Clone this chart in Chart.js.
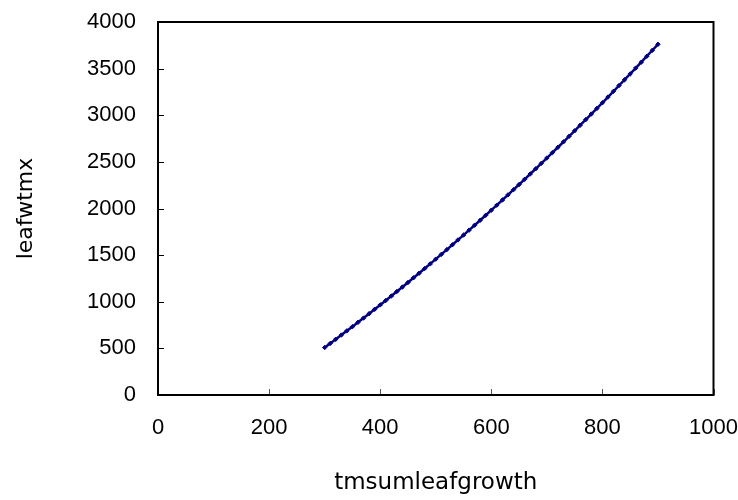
<!DOCTYPE html>
<html>
<head>
<meta charset="utf-8">
<script src="https://cdn.jsdelivr.net/npm/chart.js@4/dist/chart.umd.min.js"></script>
<style>
  html, body { margin: 0; padding: 0; background: #fff; }
  #wrap { width: 738px; height: 500px; }
</style>
</head>
<body>
<div id="wrap"><canvas id="c" width="738" height="500"></canvas></div>
<script>
// ---- data ----
const xTitle = 'tmsumleafgrowth';
const yTitle = 'leafwtmx';
const xTickValues = [0, 200, 400, 600, 800, 1000];
const yTickValues = [0, 500, 1000, 1500, 2000, 2500, 3000, 3500, 4000];
const tmsumleafgrowth = [
  300, 310, 320, 330, 340, 350, 360, 370, 380, 390,
  400, 410, 420, 430, 440, 450, 460, 470, 480, 490,
  500, 510, 520, 530, 540, 550, 560, 570, 580, 590,
  600, 610, 620, 630, 640, 650, 660, 670, 680, 690,
  700, 710, 720, 730, 740, 750, 760, 770, 780, 790,
  800, 810, 820, 830, 840, 850, 860, 870, 880, 890, 900
];
const leafwtmx = [
  509, 553, 598, 643, 688, 733, 779, 825, 872, 919,
  966, 1014, 1061, 1110, 1158, 1207, 1257, 1306, 1356, 1406,
  1457, 1508, 1559, 1611, 1663, 1715, 1768, 1821, 1874, 1928,
  1982, 2036, 2091, 2146, 2202, 2257, 2313, 2370, 2426, 2484,
  2541, 2599, 2657, 2715, 2774, 2833, 2893, 2953, 3013, 3073,
  3134, 3195, 3257, 3319, 3381, 3443, 3506, 3569, 3633, 3697, 3761
];

const points = tmsumleafgrowth.map((x, i) => ({ x: x, y: leafwtmx[i] }));

// frame + inward tick marks plugin
const framePlugin = {
  id: 'frame',
  afterDatasetsDraw(chart) {
    const { ctx, chartArea: a, scales } = chart;
    ctx.save();
    ctx.strokeStyle = '#000';
    ctx.lineWidth = 1;
    yTickValues.forEach(v => {
      const y = Math.round(scales.y.getPixelForValue(v)) + 0.5;
      ctx.beginPath();
      ctx.moveTo(a.left, y);
      ctx.lineTo(a.left + 6, y);
      ctx.stroke();
    });
    ctx.strokeStyle = '#555';
    xTickValues.forEach(v => {
      const x = Math.round(scales.x.getPixelForValue(v)) + 0.5;
      ctx.beginPath();
      ctx.moveTo(x, a.bottom);
      ctx.lineTo(x, a.bottom - 6);
      ctx.stroke();
    });
    ctx.strokeStyle = '#000';
    ctx.lineWidth = 2;
    ctx.strokeRect(a.left, a.top, a.right - a.left, a.bottom - a.top);
    ctx.restore();
  }
};

const tickFont = { family: '"Liberation Sans", Arial, sans-serif', size: 22 };

new Chart(document.getElementById('c'), {
  type: 'scatter',
  data: {
    datasets: [{
      label: yTitle,
      data: points,
      showLine: true,
      borderColor: '#000080',
      backgroundColor: '#000080',
      borderWidth: 2.5,
      pointStyle: 'rectRot',
      pointRadius: 2.2,
      pointBorderWidth: 1,
      pointHoverRadius: 2.2,
      tension: 0
    }]
  },
  options: {
    responsive: false,
    animation: false,
    devicePixelRatio: 1,
    layout: { padding: { left: 0, top: 22, right: 24.5, bottom: 0 } },
    plugins: {
      legend: { display: false },
      tooltip: { enabled: false }
    },
    scales: {
      x: {
        type: 'linear',
        min: 0, max: 1000,
        afterFit(scale) {
          scale.height = 105;
          scale.paddingLeft = 0; scale.paddingRight = 0;
          scale.paddingTop = 0; scale.paddingBottom = 0;
        },
        afterBuildTicks(scale) { scale.ticks = xTickValues.map(v => ({ value: v })); },
        grid: { display: false, drawTicks: false },
        border: { display: false },
        ticks: {
          padding: 20,
          color: '#000',
          maxRotation: 0,
          font: tickFont,
          callback: v => String(v)
        },
        title: {
          display: true,
          text: xTitle,
          color: '#000',
          padding: { top: 0, bottom: 3 },
          font: { family: '"DejaVu Sans", sans-serif', size: 23 }
        }
      },
      y: {
        type: 'linear',
        min: 0, max: 4000,
        afterFit(scale) {
          scale.width = 158;
          scale.paddingLeft = 0; scale.paddingRight = 0;
          scale.paddingTop = 0; scale.paddingBottom = 0;
        },
        afterBuildTicks(scale) { scale.ticks = yTickValues.map(v => ({ value: v })); },
        grid: { display: false, drawTicks: false },
        border: { display: false },
        ticks: {
          padding: 22,
          color: '#000',
          font: tickFont,
          callback: v => String(v)
        },
        title: {
          display: true,
          text: yTitle,
          color: '#000',
          padding: { top: 13, bottom: 0 },
          font: { family: '"DejaVu Sans", sans-serif', size: 22 }
        }
      }
    }
  },
  plugins: [framePlugin]
});
</script>
</body>
</html>
